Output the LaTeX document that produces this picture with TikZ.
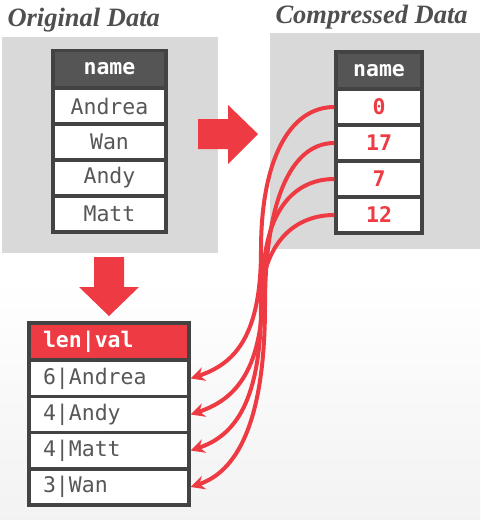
\documentclass[tikz,border=0pt]{standalone}
\usepackage{fontspec}
\setmainfont{Liberation Serif}
\setmonofont{DejaVu Sans Mono}
\usetikzlibrary{arrows.meta}
\definecolor{dbred}{HTML}{EE3B43}
\definecolor{boxgray}{HTML}{D9D9D9}
\definecolor{frame}{HTML}{434343}
\definecolor{hdr}{HTML}{555555}
\definecolor{txt}{HTML}{575757}
\definecolor{ttl}{HTML}{4F4F4F}
\begin{document}
\begin{tikzpicture}[x=1pt,y=-1pt,
  cell/.style={draw=frame, line width=3.2pt, fill=white, inner sep=0pt,
    minimum height=36pt, font=\fontsize{21.5}{24}\selectfont\ttfamily, text=txt},
  hcell/.style={cell, fill=hdr, text=white, minimum height=37pt,
    font=\fontsize{21.5}{24}\selectfont\ttfamily\bfseries},
  lw/.style={minimum width=113pt},
  rw/.style={minimum width=86pt},
  rcell/.style={cell, rw, text=dbred,
    font=\fontsize{21.5}{24}\selectfont\ttfamily\bfseries},
  bw/.style={inner xsep=14pt, text width=132pt, align=left},
  title/.style={anchor=base west, text=ttl,
    font=\fontsize{26.5}{30}\selectfont\bfseries\itshape},
  conn/.style={draw=dbred, line width=4pt, -{Stealth[length=14pt,width=14pt]}},
  blockarrow/.style={fill=dbred}
]
\useasboundingbox (0,0) rectangle (480,520);
\fill[white] (0,0) rectangle (480,520);
\shade[top color=white, bottom color=black!5] (0,280) rectangle (480,520);

% titles
\node[title] (t1) at (4,26) {Original Data};
\node[title] (t2) at (272,23) {Compressed Data};

% gray panels
\fill[boxgray] (2,37) rectangle (218,253);
\fill[boxgray] (270,33) rectangle (480,249);

% block arrows
\fill[blockarrow] (198,119) -- (228,119) -- (228,105) -- (258,134) -- (228,164) -- (228,149) -- (198,149) -- cycle;
\fill[blockarrow] (94,257) -- (124,257) -- (124,287) -- (139,287) -- (109,316) -- (79,287) -- (94,287) -- cycle;

% original table
\node[hcell, lw] (lh) at (109.5,69) {name};
\node[cell, lw] (l1) at (109.5,106) {Andrea};
\node[cell, lw] (l2) at (109.5,142) {Wan};
\node[cell, lw] (l3) at (109.5,178) {Andy};
\node[cell, lw] (l4) at (109.5,214) {Matt};

% compressed table
\node[hcell, rw] (rh) at (379,70.5) {name};
\node[rcell] (r1) at (379,107) {0};
\node[rcell] (r2) at (379,143) {17};
\node[rcell] (r3) at (379,179) {7};
\node[rcell] (r4) at (379,215) {12};

% dictionary table
\node[hcell, bw, fill=dbred] (bh) at (109,341.5) {len|val};
\node[cell, bw] (b1) at (109,378.5) {6|Andrea};
\node[cell, bw] (b2) at (109,414.5) {4|Andy};
\node[cell, bw] (b3) at (109,450.5) {4|Matt};
\node[cell, bw] (b4) at (109,487) {3|Wan};

% connectors
\coordinate (m1) at (261,250);
\coordinate (m2) at (265,305);
\coordinate (m3) at (263,285);
\coordinate (m4) at (261,305);
\draw[conn] (r1.west) .. controls +(-45,0) and +(0,-90) .. (m1)
  .. controls +(0,85) and +(45,-15) .. (b1.east);
\draw[conn] (r2.west) .. controls +(-45,0) and +(0,-100) .. (m2)
  .. controls +(0,120) and +(45,-15) .. (b4.east);
\draw[conn] (r3.west) .. controls +(-45,0) and +(0,-67) .. (m3)
  .. controls +(0,85) and +(45,-15) .. (b2.east);
\draw[conn] (r4.west) .. controls +(-45,0) and +(0,-55) .. (m4)
  .. controls +(0,95) and +(45,-15) .. (b3.east);
\end{tikzpicture}
\end{document}
